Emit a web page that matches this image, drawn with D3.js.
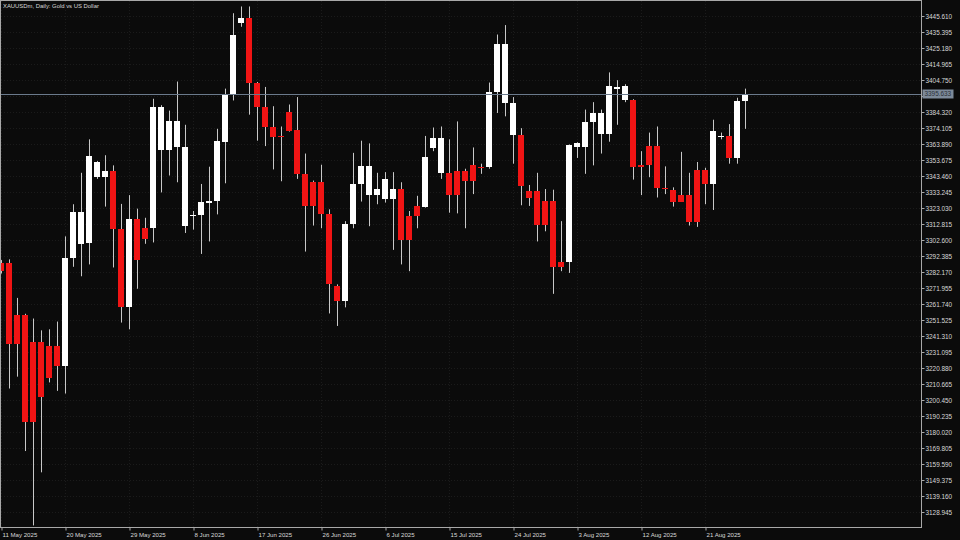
<!DOCTYPE html>
<html><head><meta charset="utf-8">
<script src="https://cdn.jsdelivr.net/npm/d3@7/dist/d3.min.js"></script>
<style>
html,body{margin:0;padding:0;background:#0b0b0b;}
svg{display:block;}
text{font-family:"Liberation Sans",Arial,sans-serif;}
</style></head>
<body>
<svg id="chart" width="960" height="540"></svg>
<script>
const title = "XAUUSDm, Daily:  Gold vs US Dollar";
const open = [3287.66,3287.65,3254.63,3254.63,3237.36,3237.36,3235.21,3235.21,3222.47,3290.89,
3300.17,3300.61,3342.91,3342.91,3346.36,3309.67,3260.03,3315.71,3310.10,3310.10,
3359.96,3359.96,3361.90,3311.83,3318.00,3318.30,3326.51,3327.59,3365.36,3396.01,
3440.90,3444.57,3403.13,3387.37,3374.85,3369.03,3384.35,3372.70,3344.42,3339.46,
3339.46,3318.95,3272.98,3263.91,3312.69,3338.38,3331.25,3331.25,3328.66,3328.66,
3335.14,3317.87,3324.35,3323.92,3361.04,3345.50,3345.50,3346.58,3346.58,3350.68,
3349.39,3349.17,3397.30,3390.18,3369.67,3369.67,3334.06,3334.06,3327.59,3327.59,
3288.73,3288.73,3361.90,3361.90,3377.88,3370.32,3370.32,3398.81,3391.69,3391.91,
3350.68,3362.77,3362.77,3335.79,3334.71,3331.25,3331.25,3347.01,3347.01,3338.38,
3368.81,3369.24,3354.98,3391.26];
const high = [3289.80,3290.24,3265.64,3255.50,3252.47,3244.92,3245.57,3250.53,3304.92,3325.43,
3345.50,3366.87,3353.00,3356.72,3350.25,3325.64,3331.25,3322.62,3316.79,3392.77,
3388.67,3385.21,3403.78,3376.15,3321.11,3338.38,3349.39,3373.56,3399.24,3447.38,
3451.69,3451.69,3403.50,3400.32,3388.02,3375.07,3389.10,3393.85,3357.80,3340.54,
3350.68,3322.19,3274.27,3314.63,3358.23,3366.00,3364.28,3345.50,3345.93,3345.93,
3339.46,3321.11,3330.82,3369.03,3374.42,3375.07,3366.87,3378.31,3348.09,3361.69,
3351.33,3403.13,3433.78,3439.82,3393.85,3373.99,3337.73,3345.50,3335.14,3334.71,
3314.63,3363.63,3365.00,3385.86,3390.61,3385.86,3409.60,3404.64,3402.05,3392.50,
3359.31,3371.18,3375.07,3349.60,3336.22,3358.88,3345.50,3352.41,3348.74,3379.39,
3371.18,3376.58,3393.42,3399.24];
const low = [3281.20,3207.79,3215.35,3167.86,3120.38,3154.27,3211.68,3206.28,3204.56,3285.50,
3279.45,3287.01,3341.61,3323.92,3285.06,3249.88,3245.57,3271.47,3300.17,3301.04,
3332.98,3343.77,3339.46,3307.08,3309.24,3293.70,3301.68,3318.95,3338.81,3391.69,
3438.74,3382.62,3366.00,3362.55,3347.66,3340.10,3371.83,3341.61,3295.21,3311.83,
3310.10,3255.71,3247.72,3259.60,3310.10,3327.15,3311.40,3325.43,3326.51,3296.29,
3287.01,3282.69,3310.10,3323.26,3359.31,3341.61,3320.03,3319.60,3310.10,3331.90,
3344.85,3348.09,3383.70,3381.55,3351.33,3324.78,3324.35,3301.68,3308.16,3268.23,
3282.69,3281.61,3355.00,3344.85,3350.25,3357.80,3365.36,3376.15,3390.61,3341.18,
3331.25,3342.69,3329.74,3331.90,3323.92,3326.94,3311.83,3310.97,3325.43,3321.76,
3366.87,3351.33,3351.33,3373.56];
const close = [3282.69,3236.50,3236.50,3186.21,3186.21,3202.18,3214.27,3222.47,3290.89,3320.46,
3320.46,3356.29,3352.41,3346.36,3309.67,3260.03,3315.71,3289.81,3303.20,3387.37,
3387.37,3378.31,3378.31,3361.90,3318.50,3326.94,3327.80,3365.79,3396.01,3433.78,
3444.57,3402.70,3387.37,3374.85,3368.59,3368.81,3372.48,3344.42,3324.35,3324.35,
3318.95,3274.27,3263.91,3312.69,3338.38,3349.82,3349.82,3335.14,3341.61,3335.14,
3302.33,3302.33,3317.87,3355.64,3367.95,3367.95,3331.25,3331.25,3340.32,3340.32,
3349.17,3397.30,3427.95,3427.95,3390.18,3337.30,3329.10,3312.48,3312.48,3285.50,
3285.06,3363.20,3364.71,3377.88,3383.70,3383.70,3400.97,3400.54,3400.97,3349.17,
3349.17,3350.68,3335.57,3335.36,3327.15,3327.15,3313.99,3313.99,3338.38,3372.48,
3369.24,3354.98,3391.26,3396.01];
const priceTicks = ["3445.610","3435.395","3425.180","3414.965","3404.750","3394.535","3384.320",
"3374.105","3363.890","3353.675","3343.460","3333.245","3323.030","3312.815","3302.600","3292.385",
"3282.170","3271.955","3261.740","3251.525","3241.310","3231.095","3220.880","3210.665","3200.450",
"3190.235","3180.020","3169.805","3159.590","3149.375","3139.160","3128.945"];
const dateTickIndex = [0,8,16,24,32,40,48,56,64,72,80,88];
const dateTickLabels = ["11 May 2025","20 May 2025","29 May 2025","8 Jun 2025","17 Jun 2025","26 Jun 2025",
"6 Jul 2025","15 Jul 2025","24 Jul 2025","3 Aug 2025","12 Aug 2025","21 Aug 2025"];
const lastPrice = 3395.62;
const lastPriceLabel = "3395.633";

const svg = d3.select("#chart");
const plotRight = 921.5, plotBottom = 527.5;
const x = d3.scaleLinear().domain([0, 93]).range([1, 745]);
const y = d3.scaleLinear().domain([+priceTicks[priceTicks.length-1], +priceTicks[0]]).range([512, 16]);

svg.append("rect").attr("width",960).attr("height",540).attr("fill","#0b0b0b");

// grid
const grid = svg.append("g").attr("stroke","#1b1b1b").attr("stroke-width",1).attr("stroke-dasharray","1,2");
priceTicks.forEach(t => {
  const yy = Math.round(y(+t)) + 0.5;
  grid.append("line").attr("x1",1).attr("x2",plotRight).attr("y1",yy).attr("y2",yy);
});
dateTickIndex.forEach(i => {
  const xx = Math.round(x(i)) + 0.5;
  grid.append("line").attr("x1",xx).attr("x2",xx).attr("y1",1).attr("y2",plotBottom);
});

// candles
const idx = d3.range(open.length);
const cg = svg.append("g");
cg.selectAll("line.wick").data(idx).join("line")
  .attr("x1", i => Math.round(x(i)) + 0.5).attr("x2", i => Math.round(x(i)) + 0.5)
  .attr("y1", i => y(high[i])).attr("y2", i => y(low[i]))
  .attr("stroke", "#c8c8c8").attr("stroke-width", 1);
cg.selectAll("rect.body").data(idx).join("rect")
  .attr("x", i => Math.round(x(i)) - 3)
  .attr("width", 6)
  .attr("y", i => Math.round(y(Math.max(open[i], close[i]))))
  .attr("height", i => Math.max(1, Math.round(y(Math.min(open[i], close[i]))) - Math.round(y(Math.max(open[i], close[i])))))
  .attr("fill", i => close[i] >= open[i] ? "#ffffff" : "#f01414");

// last price line
svg.append("line").attr("x1",0).attr("x2",plotRight).attr("y1",Math.round(y(lastPrice))+0.5).attr("y2",Math.round(y(lastPrice))+0.5)
  .attr("stroke","#6b7a8c").attr("stroke-width",1);

// frame
svg.append("rect").attr("x",0.5).attr("y",0.5).attr("width",plotRight-0.5).attr("height",plotBottom-0.5)
  .attr("fill","none").attr("stroke","#a8a8a8").attr("stroke-width",1);

// price axis (the label hidden under the last-price box is not drawn)
const ly = Math.round(y(lastPrice));
const yAxis = d3.axisRight(y).tickValues(priceTicks.map(Number)).tickFormat((d,i)=>priceTicks[i]).tickSize(3).tickPadding(1);
const ya = svg.append("g").attr("transform",`translate(${plotRight},0)`).call(yAxis);
ya.select(".domain").remove();
ya.selectAll(".tick line").attr("stroke","#a8a8a8");
ya.selectAll(".tick text").attr("fill","#d8d8d8").attr("font-size","6.4px").attr("font-family","Liberation Sans, Arial, sans-serif");
ya.selectAll(".tick").filter(d => Math.abs(y(d) - ly) < 7).select("text").remove();

// last price label
svg.append("rect").attr("x",922.5).attr("y",ly-4.5).attr("width",31).attr("height",9).attr("fill","#7d8a9a");
svg.append("text").attr("x",924.5).attr("y",ly+2.3).attr("fill","#2a2f38").attr("font-size","6.4px").text(lastPriceLabel);

// date axis
const xAxis = d3.axisBottom(x).tickValues(dateTickIndex).tickFormat((d,i)=>dateTickLabels[i]).tickSize(3);
const xa = svg.append("g").attr("transform",`translate(0.5,${plotBottom})`).call(xAxis);
xa.select(".domain").remove();
xa.selectAll(".tick line").attr("stroke","#a8a8a8");
xa.selectAll(".tick text").attr("fill","#d8d8d8").attr("font-size","6.1px").attr("text-anchor","start")
  .attr("font-family","Liberation Sans, Arial, sans-serif").attr("x",0.5).attr("dy",null).attr("y",9.3);

// title
svg.append("text").attr("x",3).attr("y",8).attr("fill","#d8d8d8").attr("font-size","5.9px").text(title);
</script>
</body></html>
